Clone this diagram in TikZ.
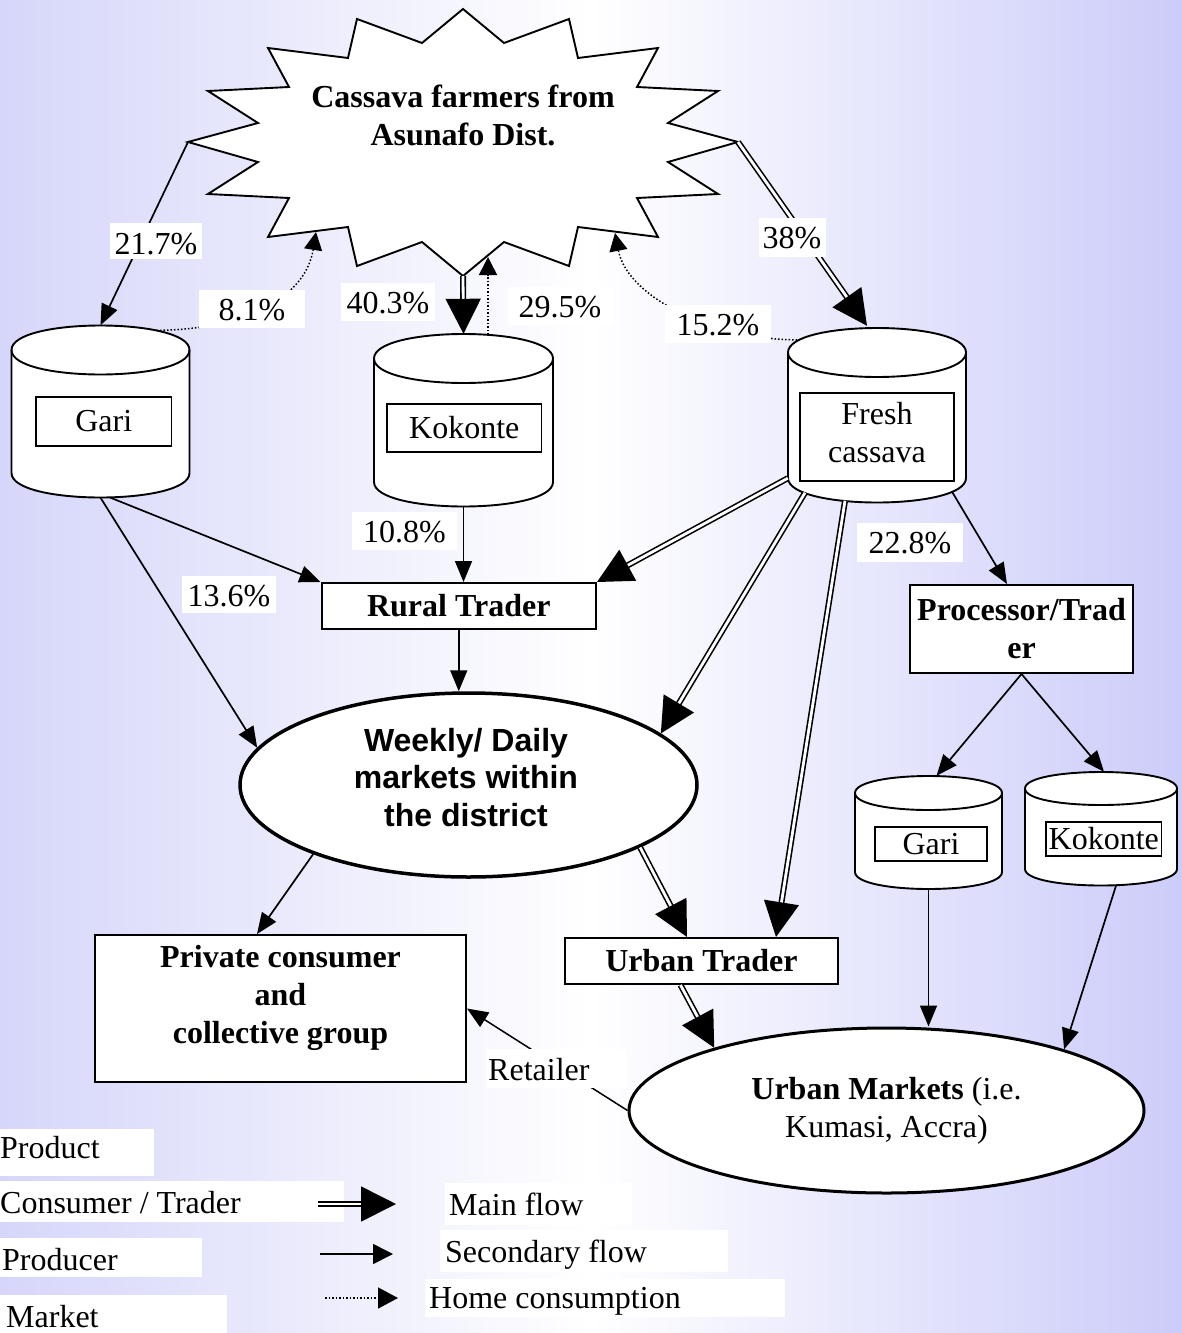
\documentclass[tikz,border=0pt]{standalone}
\usepackage{fontspec}
\setmainfont{Liberation Serif}
\setsansfont{Liberation Sans}
\usetikzlibrary{arrows.meta,calc,shapes.geometric}

\definecolor{lavleft}{RGB}{214,214,250}
\definecolor{lavright}{RGB}{204,204,250}

% cylinder: name, centre x, top-cap centre y, bottom-cap centre y, x radius, y radius
\newcommand{\drum}[6]{%
  \node[minimum width={2*#5}, minimum height={#4-#3+2*#6}] (#1) at (#2,{(#3+#4)/2}) {};
  \path[drumline, draw, fill=white]
    ({#2-#5},#3) -- ({#2-#5},#4)
    .. controls ({#2-#5},{#4+1.3333*#6}) and ({#2+#5},{#4+1.3333*#6}) .. ({#2+#5},#4)
    -- ({#2+#5},#3)
    .. controls ({#2+#5},{#3-1.3333*#6}) and ({#2-#5},{#3-1.3333*#6}) .. ({#2-#5},#3)
    -- cycle;
  \draw[drumline]
    ({#2-#5},#3) .. controls ({#2-#5},{#3+1.3333*#6}) and ({#2+#5},{#3+1.3333*#6}) .. ({#2+#5},#3);
}

\tikzset{
  every node/.style={font=\fontsize{32}{38}\selectfont, inner sep=0pt},
  bold/.style={font=\fontsize{32}{38}\selectfont\bfseries},
  frame/.style={draw, line width=2pt, fill=white, rectangle},
  inbox/.style={draw, line width=1.8pt, rectangle},
  drumline/.style={line width=1.9pt, line join=round},
  starline/.style={draw, fill=white, line width=1.9pt, line join=miter},
  tag/.style={fill=white, inner sep=0pt},
  mainflow/.style={double, double distance=2.8pt, line width=1.6pt,
    -{Triangle[length=35pt,width=35pt]}},
  secflow/.style={line width=1.7pt, -{Triangle[length=21pt,width=17pt]}},
  homeflow/.style={line width=1.5pt, dotted, -{Triangle[length=18pt,width=18pt]}},
}

\begin{document}
\begin{tikzpicture}[x=1pt, y=-1pt]
\useasboundingbox (0,0) rectangle (1182,1333);
\shade[left color=lavleft, right color=lavright, middle color=white] (0,0) rectangle (1182,1333);

% the farmers: a starburst
\draw[starline] (463,9) -- (504,43) -- (569,19) -- (578,58) -- (658,48) -- (637,87)
  -- (718,91) -- (668,123) -- (738,142) -- (668,162) -- (718,194) -- (637,198)
  -- (658,237) -- (578,227) -- (569,266) -- (504,242) -- (463,276) -- (422,242)
  -- (357,266) -- (348,227) -- (268,237) -- (289,198) -- (208,194) -- (258,162)
  -- (188,142) -- (258,123) -- (208,91) -- (289,87) -- (268,48) -- (348,58)
  -- (357,19) -- (422,43) -- cycle;
\node[bold, align=center] (farmers) at (463,115) {Cassava farmers from\\Asunafo Dist.};
\coordinate (starW) at (188,142);
\coordinate (starE) at (738,142);
\coordinate (starS) at (463,276);
\coordinate (starSW) at (316,232);
\coordinate (starSS) at (488,257);
\coordinate (starSE) at (615,233);

% products
\drum{gari}{100.5}{350}{473}{89}{24.5}
\drum{kokonte}{463.5}{358.5}{482}{89.5}{24.5}
\drum{fresh}{877}{352.5}{478}{89}{24.5}
\drum{garib}{928.5}{793}{872}{73.5}{17}
\drum{kokonteb}{1101}{788.5}{869}{76}{16.5}
\node[inbox, minimum width=135.5pt, minimum height=49pt] (gariname) at (103.75,421.5) {Gari};
\node[inbox, minimum width=154.5pt, minimum height=48pt] (kokontename) at (464.25,428) {Kokonte};
\node[inbox, minimum width=154pt, minimum height=88pt] (freshname) at (877,437) {};
\node[align=center] (freshtext) at (877,433) {Fresh\\cassava};
\node[inbox, minimum width=112pt, minimum height=34pt] (garibname) at (931,844) {Gari};
\node[inbox, minimum width=115.5pt, minimum height=34pt] (kokontebname) at (1103.75,839) {Kokonte};

% traders and consumers
\node[frame, bold, minimum width=274.5pt, minimum height=46pt] (rural) at (458.75,606) {Rural Trader};
\node[frame, bold, minimum width=223pt, minimum height=88pt, align=center] (proc) at (1021.5,629) {Processor/Trad\\er};
\node[frame, bold, minimum width=273pt, minimum height=46pt] (utrader) at (701.5,961) {Urban Trader};
\node[frame, minimum width=371pt, minimum height=147pt] (private) at (280.5,1008.5) {};
\node[bold, align=center] (privatetext) at (280.5,998) {Private consumer\\and\\collective group};

% markets
\node[ellipse, draw, line width=3.5pt, fill=white, minimum width=457pt, minimum height=184pt] (weekly) at (468.5,785) {};
\node[font=\fontsize{32}{37.5}\selectfont\sffamily\bfseries, align=center] (weeklytext) at (466,777.5) {Weekly/ Daily\\markets within\\the district};
\node[ellipse, draw, line width=3pt, fill=white, minimum width=515pt, minimum height=165pt, align=center] (umkt) at (886.5,1110.5) {\textbf{Urban Markets} (i.e.\\Kumasi, Accra)};

% flows from the farmers
\draw[secflow] (starW) -- (gari.north);
\draw[homeflow] ($(gari.north)+(56,5)$) .. controls (240,330) and (305,300) .. (starSW);
\draw[mainflow] (starS) -- (kokonte.north);
\draw[homeflow] ($(kokonte.north)+(24.5,1)$) -- (starSS);
\draw[homeflow] ($(fresh.north)+(-80,12)$) .. controls (720,340) and (628,300) .. (starSE);
\draw[mainflow] (starE) -- ($(fresh.north)+(-10,-2)$);

% flows from the products
\draw[secflow] ($(gari.south)+(10,0)$) -- (rural.north west);
\draw[secflow] (gari.south) -- (weekly.170);
\draw[secflow] (kokonte.south) -- (kokonte.south |- rural.north);
\draw[secflow] (rural.south) -- (rural.south |- weekly.north);
\draw[mainflow] ($(fresh.south west)+(0,-24.5)$) -- (rural.north east);
\draw[mainflow] ($(fresh.south)+(-72,-10)$) -- (weekly.15);
\draw[mainflow] ($(fresh.south)+(-32,-2)$) -- ($(utrader.north)+(74.5,0)$);
\draw[secflow] ($(fresh.south)+(75,-11)$) -- ($(proc.north)+(-14.5,0)$);
\draw[secflow] (proc.south) -- ($(garib.north)+(8,0)$);
\draw[secflow] (proc.south) -- ($(kokonteb.north)+(3,0)$);

% flows between markets and traders
\draw[mainflow] (weekly.-20) -- ($(utrader.north)+(-14.5,0)$);
\draw[secflow] (weekly.204) -- ($(private.north)+(-23.5,0)$);
\draw[mainflow] ($(utrader.south)+(-21,0)$) -- (umkt.160);
\draw[secflow] (garib.south) -- (garib.south |- umkt.north);
\draw[secflow] ($(kokonteb.south)+(15,0)$) -- (umkt.19);
\draw[secflow, line width=1.5pt] (umkt.west) -- (private.east);

% shares
\node[tag, anchor=base, text width=92pt, text height=31pt, text depth=5pt, align=center] (p217) at (156,254) {21.7\%};
\node[tag, anchor=base, text width=106pt, text height=30pt, text depth=8pt, align=center] (p81) at (252,320) {8.1\%};
\node[tag, anchor=base, text width=94pt, text height=30pt, text depth=8pt, align=center] (p403) at (388,313) {40.3\%};
\node[tag, anchor=base, text width=105pt, text height=30pt, text depth=8pt, align=center] (p295) at (560,317) {29.5\%};
\node[tag, anchor=base, text width=106pt, text height=30pt, text depth=8pt, align=center] (p152) at (718,335) {15.2\%};
\node[tag, anchor=base, text width=67pt, text height=30pt, text depth=9pt, align=center] (p38) at (792,248) {38\%};
\node[tag, anchor=base, text width=105pt, text height=30pt, text depth=8pt, align=center] (p108) at (404.5,542) {10.8\%};
\node[tag, anchor=base, text width=94pt, text height=30pt, text depth=7pt, align=center] (p136) at (229,606) {13.6\%};
\node[tag, anchor=base, text width=106pt, text height=30pt, text depth=9pt, align=center] (p228) at (910,553) {22.8\%};
\node[tag, anchor=base west, inner xsep=2pt, text width=137pt, text height=31pt, text depth=8pt, align=flush left] (retailer) at (486,1080) {Retailer};

% legend
\node[tag, anchor=base west, text width=154pt, text height=29pt, text depth=18pt, align=flush left] (lgproduct) at (0,1158) {Product};
\node[tag, anchor=base west, text width=344pt, text height=32pt, text depth=9pt, align=flush left] (lgtrader) at (0,1213) {\mbox{Consumer / Trader}};
\node[tag, anchor=base west, inner xsep=2pt, text width=198pt, text height=32pt, text depth=7pt, align=flush left] (lgproducer) at (0,1270) {Producer};
\node[tag, anchor=base west, inner xsep=6pt, text width=215pt, text height=32pt, text depth=6pt, align=flush left] (lgmarket) at (0,1327) {Market};
\node[tag, anchor=base west, inner xsep=4pt, text width=179pt, text height=32pt, text depth=10pt, align=flush left] (lgmain) at (445,1215) {\mbox{Main flow}};
\node[tag, anchor=base west, inner xsep=5pt, text width=278pt, text height=32pt, text depth=10pt, align=flush left] (lgsec) at (440,1262) {\mbox{Secondary flow}};
\node[tag, anchor=base west, inner xsep=4pt, text width=352pt, text height=29pt, text depth=9pt, align=flush left] (lghome) at (425,1308) {\mbox{Home consumption}};
\coordinate (lgA1) at (318,1204);
\coordinate (lgA2) at (396,1204);
\coordinate (lgB1) at (320,1254);
\coordinate (lgB2) at (393,1254);
\coordinate (lgC1) at (325,1298);
\coordinate (lgC2) at (398,1298);
\draw[mainflow] (lgA1) -- (lgA2);
\draw[secflow, -{Triangle[length=20pt,width=20pt]}] (lgB1) -- (lgB2);
\draw[homeflow, -{Triangle[length=20pt,width=21pt]}] (lgC1) -- (lgC2);
\end{tikzpicture}
\end{document}
